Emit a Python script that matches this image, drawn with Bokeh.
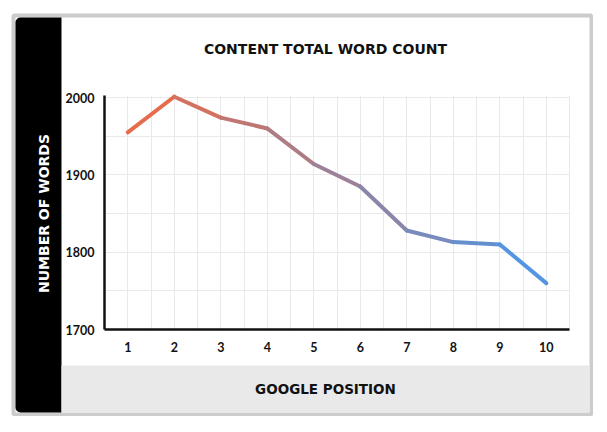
from bokeh.plotting import figure
from bokeh.models import (BoxAnnotation, Label, FixedTicker, SingleIntervalTicker,
                          Range1d, LinearAxis, Grid)
from bokeh.embed import file_html
from bokeh.resources import INLINE

# ---- data ----
positions = [1, 2, 3, 4, 5, 6, 7, 8, 9, 10]
word_counts = [1955, 2001, 1974, 1960, 1914, 1885, 1828, 1813, 1810, 1760]
y_ticks = [1700, 1800, 1900, 2000]
title_text = "CONTENT TOTAL WORD COUNT"
x_label_text = "GOOGLE POSITION"
y_label_text = "NUMBER OF WORDS"

# ---- layout (pixels) ----
W, H = 593, 416
PLOT_L, PLOT_R, PLOT_T, PLOT_B = 104, 569, 97, 329   # pixel box of the plotted value range
X_LO, X_HI = 0.5, 10.5
Y_LO, Y_HI = 1700, 2000

xs = (PLOT_R - PLOT_L) / (X_HI - X_LO)
ys = (PLOT_B - PLOT_T) / (Y_HI - Y_LO)
x_range = Range1d(X_LO - PLOT_L / xs, X_HI + (W - PLOT_R) / xs)
y_range = Range1d(Y_LO - (H - PLOT_B) / ys, Y_HI + PLOT_T / ys)

# ---- colours ----
START_RGB = (238, 106, 69)
END_RGB = (74, 152, 234)


def blend(t):
    r, g, b = (round(a + (c - a) * t) for a, c in zip(START_RGB, END_RGB))
    return "#%02x%02x%02x" % (r, g, b)


n_seg = len(positions) - 1
seg_colors = [blend((k + 0.5) / n_seg) for k in range(n_seg)]

p = figure(
    width=W, height=H,
    output_backend="svg", toolbar_location=None,
    x_range=x_range, y_range=y_range,
    x_axis_location=None, y_axis_location=None,
    min_border=0,
    background_fill_color="white", border_fill_color="white",
    outline_line_color=None,
)
p.title.visible = False
p.center = []


def sx(px):  # page x -> frame screen x
    return px


def sy(py):  # page y -> frame screen y (upwards)
    return H - py


# decorations
outer = BoxAnnotation(left=sx(13), right=sx(591), top=sy(15), bottom=sy(414),
                      left_units="screen", right_units="screen",
                      top_units="screen", bottom_units="screen",
                      fill_color=None, fill_alpha=0,
                      line_color="#cccccc", line_alpha=1, line_width=4, level="underlay")
black_band = BoxAnnotation(left=sx(15), right=sx(61), top=sy(17), bottom=sy(412),
                           left_units="screen", right_units="screen",
                           top_units="screen", bottom_units="screen",
                           fill_color="black", fill_alpha=1, line_color=None,
                           border_radius=(5, 0, 0, 5), level="underlay")
gray_band = BoxAnnotation(left=sx(61), right=sx(589), top=sy(365), bottom=sy(412),
                          left_units="screen", right_units="screen",
                          top_units="screen", bottom_units="screen",
                          fill_color="#e9e9e9", fill_alpha=1, line_color=None,
                          border_radius=(0, 0, 3, 0), level="underlay")
for b in (outer, black_band, gray_band):
    p.add_layout(b)

# grids
xgrid = Grid(dimension=0, ticker=SingleIntervalTicker(interval=0.5),
             bounds=(X_LO, X_HI), cross_bounds=(Y_LO, Y_HI + 2),
             grid_line_color="#e9e9e9", grid_line_width=1)
ygrid = Grid(dimension=1, ticker=SingleIntervalTicker(interval=50),
             bounds=(Y_LO, Y_HI), cross_bounds=(X_LO, X_HI),
             grid_line_color="#e9e9e9", grid_line_width=1)
p.add_layout(xgrid)
p.add_layout(ygrid)

# axes
xaxis = LinearAxis(ticker=FixedTicker(ticks=positions), fixed_location=Y_LO,
                   bounds=(X_LO, X_HI))
yaxis = LinearAxis(ticker=FixedTicker(ticks=y_ticks), fixed_location=X_LO,
                   bounds=(Y_LO, Y_HI + 3))
for ax in (xaxis, yaxis):
    ax.axis_line_width = 2.5
    ax.axis_line_color = "#111111"
    ax.major_tick_line_color = None
    ax.minor_tick_line_color = None
    ax.major_tick_out = 0
    ax.major_tick_in = 0
    ax.major_label_text_font = "Lato"
    ax.major_label_text_font_style = "bold"
    ax.major_label_text_font_size = "12.5px"
    ax.major_label_text_color = "#111111"
xaxis.major_label_standoff = 12
yaxis.major_label_standoff = 10
p.add_layout(xaxis, "below")
p.add_layout(yaxis, "left")

# line (coloured segments for the gradient look)
p.segment(x0=positions[:-1], y0=word_counts[:-1], x1=positions[1:], y1=word_counts[1:],
          line_color=seg_colors, line_width=4, line_cap="round")

# texts
title = Label(x=sx(325), y=sy(48), x_units="screen", y_units="screen", text=title_text,
              text_align="center", text_baseline="middle",
              text_font="DejaVu Sans", text_font_style="bold",
              text_font_size="14px", text_color="#111111")
xlab = Label(x=sx(325), y=sy(388), x_units="screen", y_units="screen", text=x_label_text,
             text_align="center", text_baseline="middle",
             text_font="DejaVu Sans", text_font_style="bold",
             text_font_size="13.5px", text_color="#111111")
ylab = Label(x=sx(43), y=sy(213), x_units="screen", y_units="screen", text=y_label_text,
             angle=90, angle_units="deg",
             text_align="center", text_baseline="middle",
             text_font="DejaVu Sans", text_font_style="bold",
             text_font_size="14px", text_color="white")
for lab in (title, xlab, ylab):
    p.add_layout(lab)

open("out.html", "w").write(file_html(p, INLINE))
